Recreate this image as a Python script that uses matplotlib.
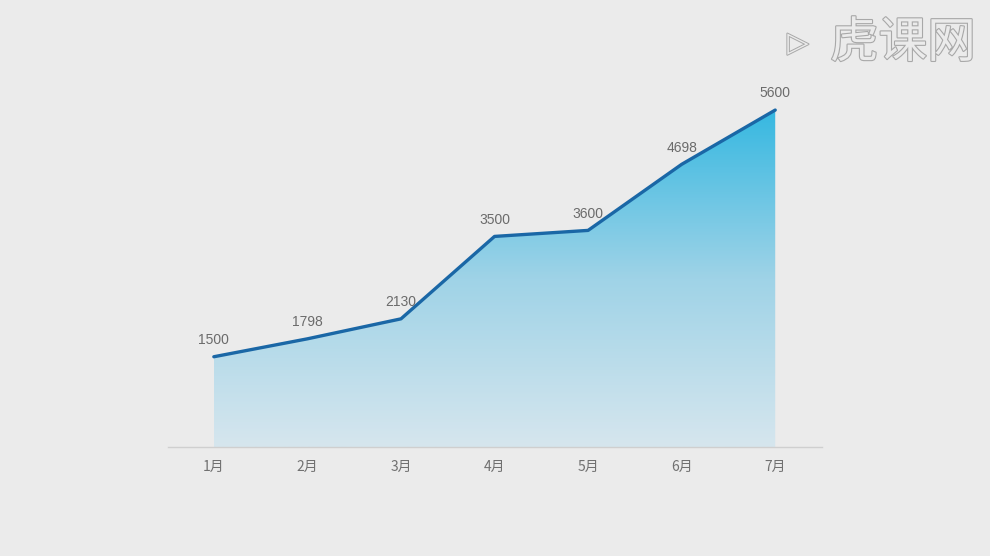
import matplotlib.pyplot as plt
import matplotlib.patheffects as pe
import numpy as np
from matplotlib.colors import LinearSegmentedColormap

plt.rcParams['font.family'] = ['Noto Sans CJK SC', 'DejaVu Sans']

# Daten
months = ['1月', '2月', '3月', '4月', '5月', '6月', '7月']
values = [1500, 1798, 2130, 3500, 3600, 4698, 5600]

bg = '#ebebeb'
fig = plt.figure(figsize=(9.9, 5.56), dpi=100, facecolor=bg)
ax = fig.add_axes([168 / 990, 1 - 447 / 556, 654 / 990, (447 - 86) / 556])
ax.set_facecolor(bg)

x = np.arange(len(months))
ax.set_xlim(-0.49, 6.5)
ax.set_ylim(0, 6000)

# Flaeche mit Farbverlauf
fill = ax.fill_between(x, values, 0, color='none')
cmap = LinearSegmentedColormap.from_list('grad', ['#d6e6ee', '#9fd3e7', '#36b8e1'])
grad = np.linspace(0, 1, 256).reshape(-1, 1)
img = ax.imshow(grad, cmap=cmap, aspect='auto', origin='lower',
                extent=[x[0], x[-1], 0, max(values)], zorder=1)
img.set_clip_path(fill.get_paths()[0], transform=ax.transData)

# Linie
ax.plot(x, values, color='#1a67a6', lw=2.4, zorder=3, solid_capstyle='round')

# Werte ueber den Punkten
for xi, v in zip(x, values):
    ax.annotate(str(v), (xi, v), xytext=(0, 7), textcoords='offset points',
                ha='center', va='bottom', fontsize=10, color='#6b6b6b',
                family=['Liberation Sans'])

ax.set_xticks(x)
ax.set_xticklabels(months, fontsize=10, color='#707070')
ax.tick_params(axis='x', length=0, pad=9)
ax.set_yticks([])
for s in ['top', 'right', 'left']:
    ax.spines[s].set_visible(False)
ax.spines['bottom'].set_color('#cfcfcf')
ax.spines['bottom'].set_linewidth(1)

# Wasserzeichen
fig.text(0.912, 0.922, '虎课网', fontsize=35, color=bg, ha='center', va='center',
         path_effects=[pe.withStroke(linewidth=1.6, foreground='#a8a8a8')])
fig.text(0.806, 0.922, '▷', fontsize=20, color=bg, ha='center', va='center',
         path_effects=[pe.withStroke(linewidth=1.4, foreground='#a8a8a8')],
         family=['DejaVu Sans'])

fig.savefig('out.png', dpi=100, facecolor=bg)
